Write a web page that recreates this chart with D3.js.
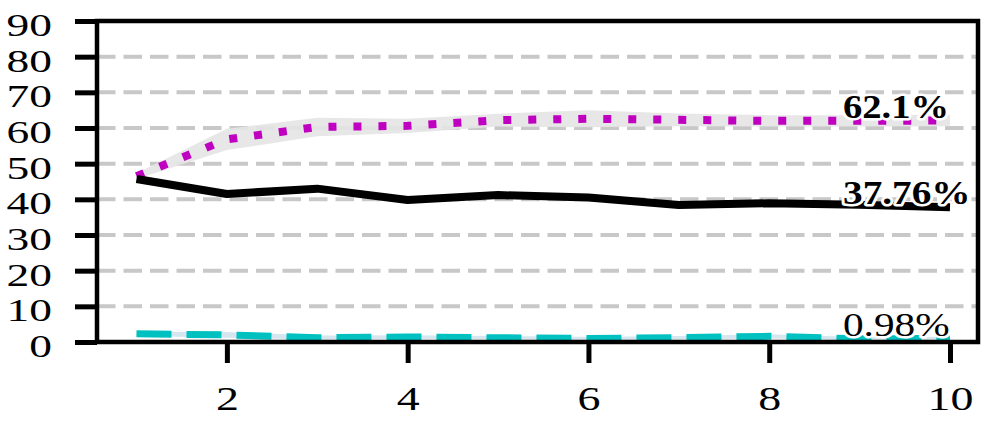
<!DOCTYPE html>
<html><head><meta charset="utf-8">
<script src="https://cdn.jsdelivr.net/npm/d3@7"></script>
<style>
html,body{margin:0;padding:0;background:#fff;}
svg{display:block;}
text{font-family:"Liberation Serif","Times New Roman",serif;}
</style></head>
<body><svg id="c" width="996" height="430"></svg>
<script>
// ---- data ----
const steps = [1,2,3,4,5,6,7,8,9,10];
const purpleVals = [46.5, 56.8, 60.3, 60.6, 62.2, 62.6, 62.3, 62.0, 62.0, 62.1];
const purpleSpread = [0.8, 3.0, 2.6, 2.0, 1.8, 2.4, 1.8, 1.6, 1.6, 1.6];
const blackVals = [45.7, 41.5, 43.0, 39.8, 41.2, 40.5, 38.4, 38.9, 38.5, 37.76];
const blackSpread = [1.2, 0.8, 0.6, 0.6, 0.5, 0.6, 0.6, 0.5, 0.5, 0.6];
const cyanVals = [2.3, 2.0, 1.2, 1.4, 1.2, 1.0, 1.2, 1.6, 0.9, 0.98];
const cyanSpread = [0.6, 0.8, 0.6, 0.5, 0.5, 0.5, 0.5, 0.6, 0.5, 0.5];
const endLabels = ["62.1%", "37.76%", "0.98%"];
const yTicks = [0,10,20,30,40,50,60,70,80,90];
const xTicks = [2,4,6,8,10];
const gridVals = [10,20,30,40,50,60,70,80];

// ---- layout ----
const L = 97, R = 978, T = 21, B = 342;
const svg = d3.select("#c");
const xs = d3.scaleLinear().domain([1,10]).range([136.5,950]);
const ys = d3.scaleLinear().domain([0,90]).range([B,T]);

// grid
svg.append("g").selectAll("line").data(gridVals).join("line")
  .attr("x1", L).attr("x2", R)
  .attr("y1", d=>ys(d)).attr("y2", d=>ys(d))
  .attr("stroke","#c8c8c8").attr("stroke-width",4)
  .attr("stroke-dasharray","18.5 8");

const series = [
  {vals: purpleVals, spread: purpleSpread, color:"#c000c0", band:"#e4e4e4", width:8, dash:"8 17", label:endLabels[0], weight:"bold", sx:1.17},
  {vals: blackVals, spread: blackSpread, color:"#000000", band:"#e4e4e4", width:8, dash:null, label:endLabels[1], weight:"bold", sx:1.19},
  {vals: cyanVals, spread: cyanSpread, color:"#00c0c0", band:"#d2e3ed", width:7, dash:"35 15", label:endLabels[2], weight:"normal", sx:1.25}
];

const area = d3.area().x((d,i)=>xs(steps[i])).y0(d=>ys(d[0]-d[1])).y1(d=>ys(d[0]+d[1]));
const line = d3.line().x((d,i)=>xs(steps[i])).y(d=>ys(d));

series.forEach(s=>{
  svg.append("path").datum(s.vals.map((v,i)=>[v,s.spread[i]]))
    .attr("d", area).attr("fill", s.band).attr("opacity",0.9);
});
series.forEach(s=>{
  const p = svg.append("path").datum(s.vals).attr("d", line)
    .attr("fill","none").attr("stroke", s.color).attr("stroke-width", s.width)
    .attr("stroke-linejoin","round");
  if (s.dash) p.attr("stroke-dasharray", s.dash).attr("stroke-linejoin","miter");
});

// end labels
series.forEach(s=>{
  const last = s.vals[s.vals.length-1];
  svg.append("text")
    .attr("transform", `translate(${xs(10)-107},${ys(last)-3}) scale(${s.sx},1)`)
    .attr("font-size", 33).attr("font-weight", s.weight)
    .attr("fill","#000").attr("stroke","#fff").attr("stroke-width",5)
    .attr("paint-order","stroke").attr("stroke-linejoin","round")
    .text(s.label);
});

// spines
const sp = svg.append("g").attr("stroke","#000").attr("fill","none");
sp.append("rect").attr("x",L).attr("y",T).attr("width",R-L).attr("height",B-T).attr("stroke-width",4.5);

// y axis
const yAx = svg.append("g").attr("transform",`translate(${L},0)`)
  .call(d3.axisLeft(ys).tickValues(yTicks).tickSize(22).tickFormat(d3.format("d")));
yAx.select(".domain").remove();
yAx.selectAll(".tick line").attr("stroke-width",5).attr("stroke","#000");
yAx.selectAll(".tick text").attr("x",null).attr("dy",null)
  .attr("transform","translate(-45,14.5) scale(1.42,1)")
  .attr("font-size",32).attr("font-family","Liberation Serif").attr("fill","#000");

// x axis
const xAx = svg.append("g").attr("transform",`translate(0,${B})`)
  .call(d3.axisBottom(xs).tickValues(xTicks).tickSize(21).tickFormat(d3.format("d")));
xAx.select(".domain").remove();
xAx.selectAll(".tick line").attr("stroke-width",5).attr("stroke","#000");
xAx.selectAll(".tick text").attr("y",null).attr("dy",null)
  .attr("transform","translate(0,68) scale(1.35,1)")
  .attr("font-size",34).attr("font-family","Liberation Serif").attr("fill","#000");
</script></body></html>
